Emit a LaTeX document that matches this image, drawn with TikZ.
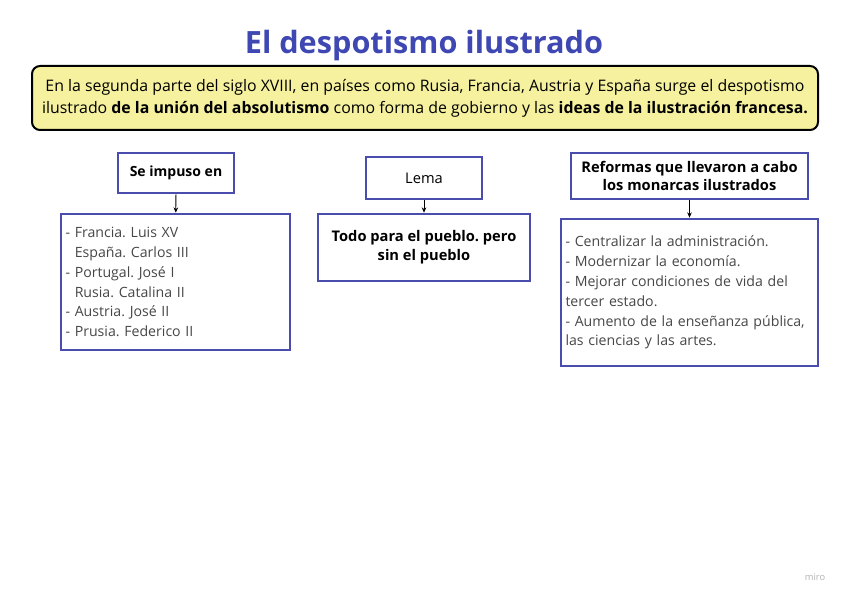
\documentclass[tikz,border=0pt]{standalone}
\usepackage{fontspec}
\setmainfont{Open Sans}
\usetikzlibrary{arrows.meta}
\definecolor{titleblue}{RGB}{62,71,178}
\definecolor{boxblue}{RGB}{74,77,174}
\definecolor{paleyellow}{RGB}{246,241,158}
\definecolor{listgray}{RGB}{70,70,70}
\frenchspacing
\begin{document}
\begin{tikzpicture}[x=0.75pt,y=-0.75pt,
    intro/.style={draw=black,line width=1.5pt,rounded corners=6pt,fill=paleyellow,
      minimum width=589.5pt,minimum height=48pt,align=center,font=\fontsize{11.9}{16.5}\selectfont},
    headbox/.style={draw=boxblue,line width=2pt,align=center,inner sep=2pt,
      font=\fontsize{11}{14}\selectfont\bfseries},
    listbox/.style={draw=boxblue,line width=2pt,align=left,inner sep=3pt,
      font=\fontsize{10.6}{14.9}\selectfont,text=listgray},
    link/.style={-{Stealth[length=4pt,width=3.5pt]},line width=0.6pt}]
  \useasboundingbox (0,0) rectangle (848,599);
  \draw
    (424,46) node[font=\fontsize{23}{26}\selectfont\bfseries,text=titleblue] (title){El despotismo ilustrado}
    (425,98) node[intro] (intro){En la segunda parte del siglo XVIII, en países como Rusia, Francia, Austria y España surge el despotismo\\
      ilustrado \textbf{de la unión del absolutismo} como forma de gobierno y las \textbf{ideas de la ilustración francesa.}}
    (176,173) node[headbox,minimum width=87pt,minimum height=30pt,font=\fontsize{10.5}{14}\selectfont\bfseries] (impuso){Se impuso en}
    (175.5,282) node[listbox,minimum width=171.75pt,minimum height=102pt,text width=165pt] (paises){%
      - Francia. Luis XV\\
      \phantom{-} España. Carlos III\\
      - Portugal. José I\\
      \phantom{-} Rusia. Catalina II\\
      - Austria. José II\\
      - Prusia. Federico II}
    (424,178) node[headbox,minimum width=87pt,minimum height=31.5pt,font=\fontsize{11}{14}\selectfont] (lema){Lema}
    (424,247.5) node[headbox,minimum width=159pt,minimum height=50.25pt] (frase){Todo para el pueblo. pero\\ sin el pueblo}
    (689.5,176) node[headbox,minimum width=177.75pt,minimum height=34.5pt] (reformas){Reformas que llevaron a cabo\\ los monarcas ilustrados}
    (689.5,292.5) node[listbox,minimum width=192.75pt,minimum height=110.25pt,text width=186pt] (lista){%
      - Centralizar la administración.\\
      - Modernizar la economía.\\
      - Mejorar condiciones de vida del\\
      tercer estado.\\
      - Aumento de la enseñanza pública,\\
      las ciencias y las artes.}
    (815,577) node[font=\fontsize{7}{8}\selectfont,text=black!30] (miro){miro};
  \begin{scope}[link]
    \draw (impuso) to (paises);
    \draw (lema) to (frase);
    \draw (reformas) to (lista);
  \end{scope}
\end{tikzpicture}
\end{document}
